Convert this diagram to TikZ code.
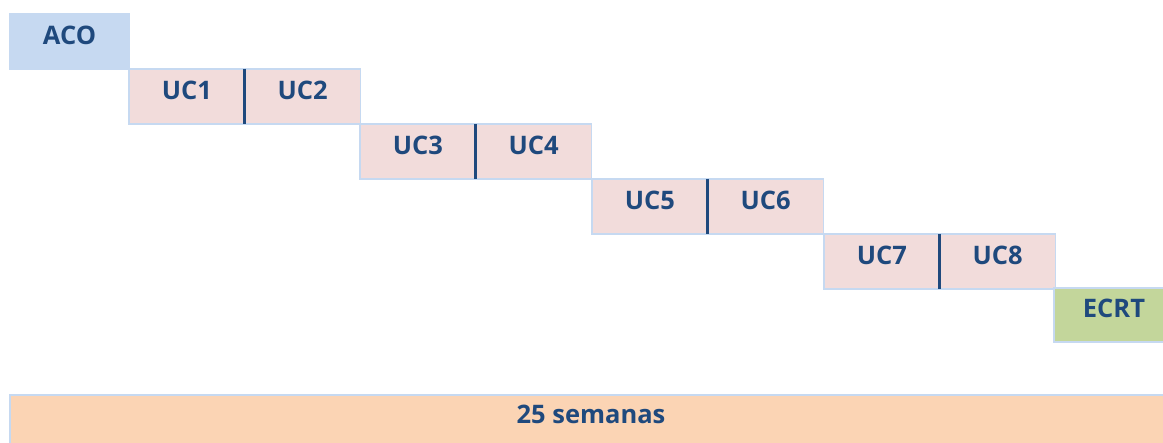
\documentclass[tikz,border=0pt]{standalone}
\usepackage{fontspec}
\setmainfont{Open Sans}
\definecolor{acoblue}{HTML}{C6D9F1}
\definecolor{ucpink}{HTML}{F2DCDB}
\definecolor{ecrtgreen}{HTML}{C3D69B}
\definecolor{barorange}{HTML}{FBD4B4}
\definecolor{textblue}{HTML}{1F497D}
\begin{document}
\begin{tikzpicture}[x=1pt, y=-1pt,
    cell/.style={draw=acoblue, line width=1.5pt, outer sep=0pt, inner sep=0pt,
      anchor=north west, minimum width=115.75pt, minimum height=55pt,
      text=textblue, text height=18pt, text depth=12pt,
      font=\bfseries\fontsize{25.5}{30}\selectfont},
    divider/.style={draw=textblue, line width=3pt}]
    \useasboundingbox (0,0) rectangle (1163,443);
    \node [cell, fill=acoblue, minimum width=119pt] (aco) at (10,14) {ACO};
    \foreach \a/\b/\x/\y in {1/2/129/69, 3/4/360/124, 5/6/592/179, 7/8/824/234} {
      \node [cell, fill=ucpink] (uc\a) at (\x,\y) {UC\a};
      \node [cell, fill=ucpink] (uc\b) at (uc\a.north east) {UC\b};
      \draw [divider] (uc\a.north east) -- (uc\a.south east);
    }
    \node [cell, fill=ecrtgreen, minimum width=120pt, minimum height=54pt] (ecrt) at (1054,288) {ECRT};
    \node [cell, fill=barorange, minimum width=1162pt, minimum height=52pt] (semanas) at (10,395) {25 semanas};
  \end{tikzpicture}
\end{document}
